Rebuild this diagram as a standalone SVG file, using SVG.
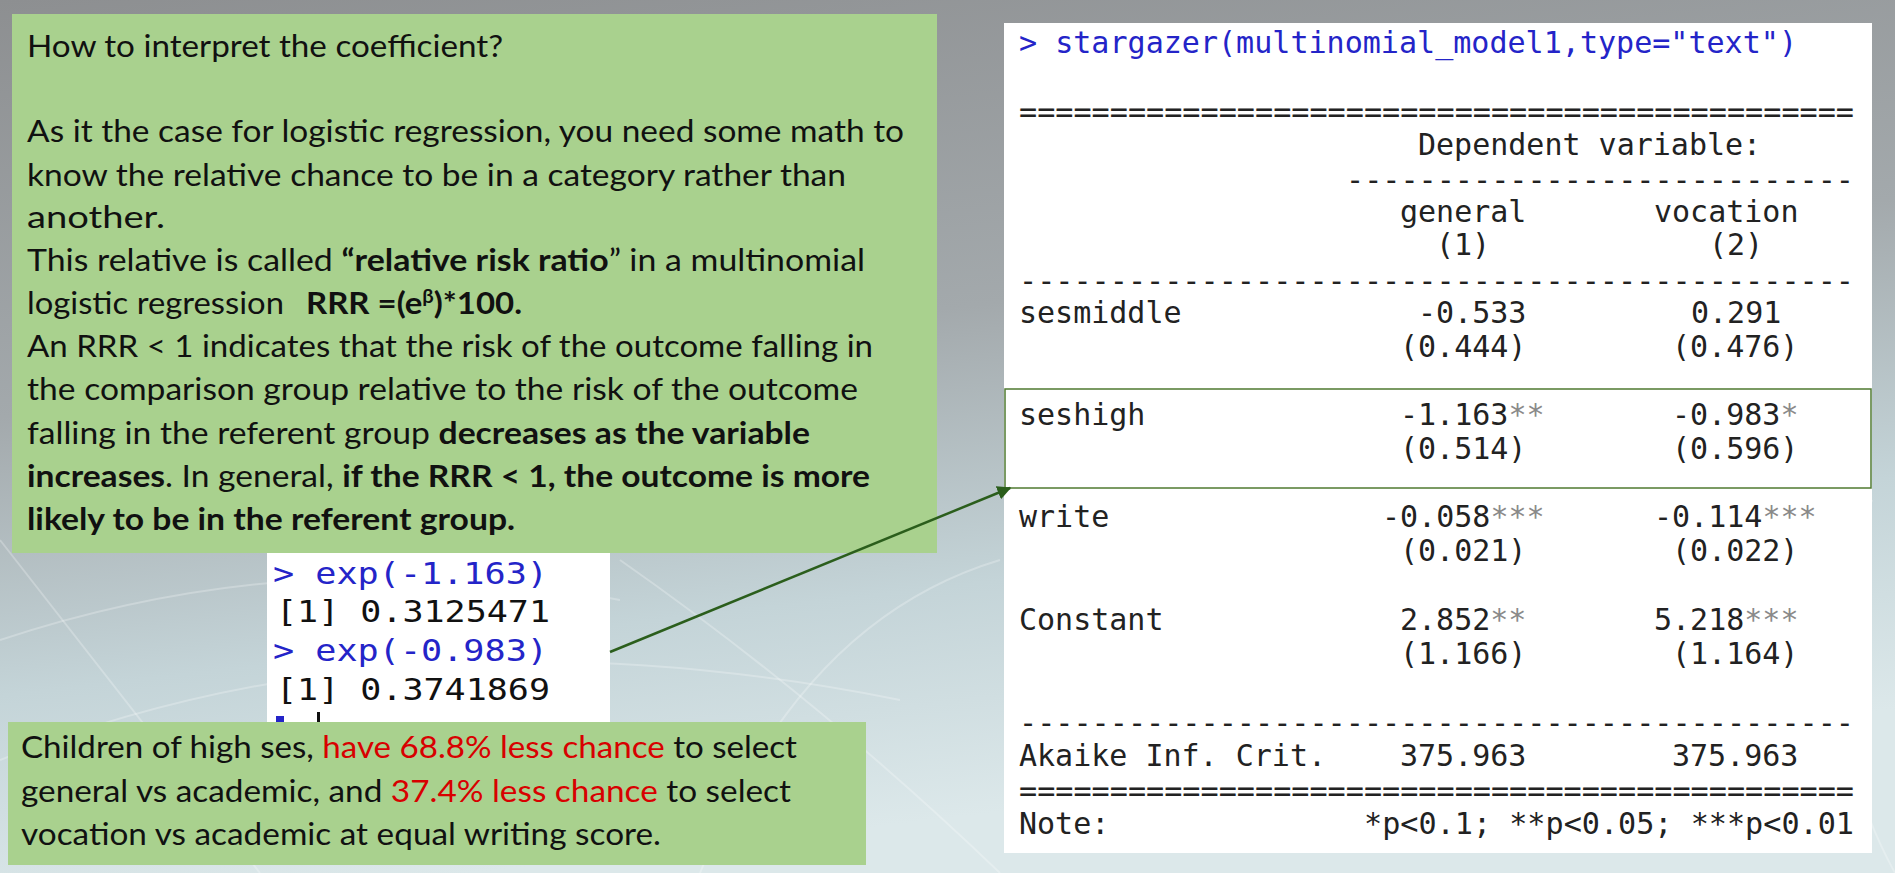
<svg xmlns="http://www.w3.org/2000/svg" width="1895" height="873" viewBox="0 0 1895 873">
<defs>
<linearGradient id="bg" x1="0" y1="0" x2="0.25" y2="1">
<stop offset="0" stop-color="#8d8f91"/>
<stop offset="0.45" stop-color="#a3a9ac"/>
<stop offset="0.75" stop-color="#c4d4d8"/>
<stop offset="1" stop-color="#dce8ea"/>
</linearGradient>
<marker id="arr" viewBox="0 0 10 10" refX="9" refY="5" markerWidth="14" markerHeight="14" markerUnits="userSpaceOnUse" orient="auto">
<path d="M0,0 L10,5 L0,10 z" fill="#2b5e1c"/>
</marker>
<style>
.g{font-family:Lato,"Noto Sans","Liberation Sans",sans-serif;font-size:31px;fill:#111}
.b{font-weight:bold}
.r{fill:#d80000}
.m{font-family:"DejaVu Sans Mono","Liberation Mono",monospace;font-size:30px;fill:#222}
.e{font-family:"DejaVu Sans Mono","Liberation Mono",monospace;font-size:30px;fill:#111}
.bl{fill:#2424c8}
.s{fill:#8a8a8a}
.deco{fill:none;stroke:#ffffff;stroke-opacity:0.25;stroke-width:2}
</style>
</defs>
<rect x="0" y="0" width="1895" height="873" fill="url(#bg)"/>
<g id="background-lines">
<path class="deco" d="M0,640 Q300,540 620,600"/>
<path class="deco" d="M0,760 Q400,600 900,700"/>
<path class="deco" d="M620,560 Q820,700 1000,873"/>
<path class="deco" d="M0,540 L260,873"/>
<path class="deco" d="M700,873 Q800,620 1000,560"/>
<path class="deco" d="M1872,500 Q1800,700 1895,873"/>
</g>
<g id="explanation-box">
<rect x="12" y="14" width="925" height="539" fill="#a9d18e"/>
<text class="g" x="27" y="57" textLength="476" lengthAdjust="spacingAndGlyphs">How to interpret the coefficient?</text>
<text class="g" x="27" y="142" textLength="877" lengthAdjust="spacingAndGlyphs">As it the case for logistic regression, you need some math to</text>
<text class="g" x="27" y="186" textLength="819" lengthAdjust="spacingAndGlyphs">know the relative chance to be in a category rather than</text>
<text class="g" x="27" y="228" textLength="138" lengthAdjust="spacingAndGlyphs">another.</text>
<text class="g" x="27" y="271" textLength="838" lengthAdjust="spacingAndGlyphs">This relative is called <tspan class="b">“relative risk ratio</tspan>” in a multinomial</text>
<text class="g" x="27" y="314" textLength="257" lengthAdjust="spacingAndGlyphs">logistic regression</text>
<text class="g b" x="306" y="314" textLength="216" lengthAdjust="spacingAndGlyphs">RRR =(e<tspan dy="-11" font-size="19">β</tspan><tspan dy="11">)*100.</tspan></text>
<text class="g" x="27" y="357" textLength="846" lengthAdjust="spacingAndGlyphs">An RRR &lt; 1 indicates that the risk of the outcome falling in</text>
<text class="g" x="27" y="400" textLength="831" lengthAdjust="spacingAndGlyphs">the comparison group relative to the risk of the outcome</text>
<text class="g" x="27" y="444" textLength="783" lengthAdjust="spacingAndGlyphs">falling in the referent group <tspan class="b">decreases as the variable</tspan></text>
<text class="g" x="27" y="487" textLength="843" lengthAdjust="spacingAndGlyphs"><tspan class="b">increases</tspan>. In general, <tspan class="b">if the RRR &lt; 1, the outcome is more</tspan></text>
<text class="g b" x="27" y="530" textLength="488" lengthAdjust="spacingAndGlyphs">likely to be in the referent group.</text>
</g>
<g id="exp-console">
<rect x="267" y="553" width="343" height="175" fill="#ffffff"/>
<text class="e bl" x="273" y="584" textLength="275" lengthAdjust="spacingAndGlyphs">&gt; exp(-1.163)</text>
<text class="e" x="276" y="622" textLength="274" lengthAdjust="spacingAndGlyphs">[1] 0.3125471</text>
<text class="e bl" x="273" y="661" textLength="275" lengthAdjust="spacingAndGlyphs">&gt; exp(-0.983)</text>
<text class="e" x="276" y="700" textLength="274" lengthAdjust="spacingAndGlyphs">[1] 0.3741869</text>
<rect x="276" y="716" width="8" height="6" fill="#2424c8"/>
<rect x="317" y="712" width="3" height="10" fill="#111"/>
</g>
<g id="conclusion-box">
<rect x="8" y="722" width="858" height="143" fill="#a9d18e"/>
<text class="g" x="21" y="758" textLength="776" lengthAdjust="spacingAndGlyphs">Children of high ses, <tspan class="r">have 68.8% less chance</tspan> to select</text>
<text class="g" x="21" y="802" textLength="770" lengthAdjust="spacingAndGlyphs">general vs academic, and <tspan class="r">37.4% less chance</tspan> to select</text>
<text class="g" x="21" y="845" textLength="640" lengthAdjust="spacingAndGlyphs">vocation vs academic at equal writing score.</text>
</g>
<g id="stargazer-table">
<rect x="1004" y="23" width="868" height="830" fill="#ffffff"/>
<text class="m bl" x="1019" y="53" textLength="778" lengthAdjust="spacingAndGlyphs">&gt; stargazer(multinomial_model1,type="text")</text>
<text class="m" x="1019" y="122" textLength="835" lengthAdjust="spacingAndGlyphs">==============================================</text>
<text class="m" x="1418" y="155">Dependent variable:</text>
<text class="m" x="1346" y="190" textLength="508" lengthAdjust="spacingAndGlyphs">----------------------------</text>
<text class="m" x="1400" y="222">general</text>
<text class="m" x="1654" y="222">vocation</text>
<text class="m" x="1436" y="255">(1)</text>
<text class="m" x="1709" y="255">(2)</text>
<text class="m" x="1019" y="291" textLength="835" lengthAdjust="spacingAndGlyphs">----------------------------------------------</text>
<text class="m" x="1019" y="323">sesmiddle</text>
<text class="m" x="1418" y="323">-0.533</text>
<text class="m" x="1691" y="323">0.291</text>
<text class="m" x="1400" y="357">(0.444)</text>
<text class="m" x="1672" y="357">(0.476)</text>
<text class="m" x="1019" y="425">seshigh</text>
<text class="m" x="1400" y="425">-1.163<tspan class="s">**</tspan></text>
<text class="m" x="1672" y="425">-0.983<tspan class="s">*</tspan></text>
<text class="m" x="1400" y="459">(0.514)</text>
<text class="m" x="1672" y="459">(0.596)</text>
<text class="m" x="1019" y="527">write</text>
<text class="m" x="1382" y="527">-0.058<tspan class="s">***</tspan></text>
<text class="m" x="1654" y="527">-0.114<tspan class="s">***</tspan></text>
<text class="m" x="1400" y="561">(0.021)</text>
<text class="m" x="1672" y="561">(0.022)</text>
<text class="m" x="1019" y="630">Constant</text>
<text class="m" x="1400" y="630">2.852<tspan class="s">**</tspan></text>
<text class="m" x="1654" y="630">5.218<tspan class="s">***</tspan></text>
<text class="m" x="1400" y="664">(1.166)</text>
<text class="m" x="1672" y="664">(1.164)</text>
<text class="m" x="1019" y="733" textLength="835" lengthAdjust="spacingAndGlyphs">----------------------------------------------</text>
<text class="m" x="1019" y="766">Akaike Inf. Crit.</text>
<text class="m" x="1400" y="766">375.963</text>
<text class="m" x="1672" y="766">375.963</text>
<text class="m" x="1019" y="801" textLength="835" lengthAdjust="spacingAndGlyphs">==============================================</text>
<text class="m" x="1019" y="834">Note:</text>
<text class="m" x="1364" y="834" textLength="490" lengthAdjust="spacingAndGlyphs">*p&lt;0.1; **p&lt;0.05; ***p&lt;0.01</text>
<rect id="seshigh-highlight" x="1005" y="389" width="866" height="99" fill="none" stroke="#4f7a30" stroke-width="1.5"/>
</g>
<g id="connectors">
<line x1="610" y1="652" x2="1010" y2="488" stroke="#2b5e1c" stroke-width="2.5" marker-end="url(#arr)"/>
</g>
</svg>
